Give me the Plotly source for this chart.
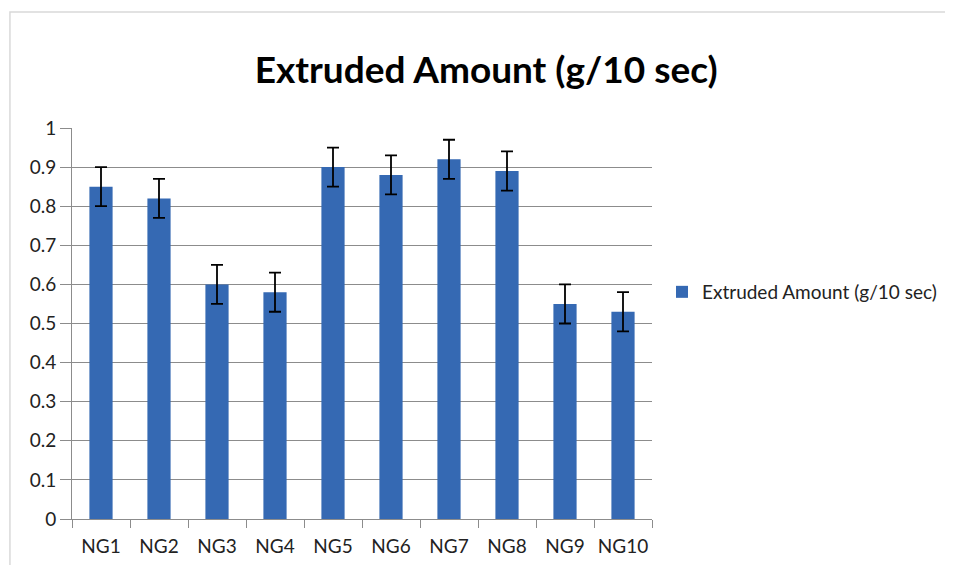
import plotly.graph_objects as go

categories = ["NG1", "NG2", "NG3", "NG4", "NG5", "NG6", "NG7", "NG8", "NG9", "NG10"]
values = [0.85, 0.82, 0.60, 0.58, 0.90, 0.88, 0.92, 0.89, 0.55, 0.53]
errors = [0.05, 0.05, 0.05, 0.05, 0.05, 0.05, 0.05, 0.05, 0.05, 0.05]
y_ticks = [0, 0.1, 0.2, 0.3, 0.4, 0.5, 0.6, 0.7, 0.8, 0.9, 1]
y_tick_labels = ["0", "0.1", "0.2", "0.3", "0.4", "0.5", "0.6", "0.7", "0.8", "0.9", "1"]
series_name = "Extruded Amount (g/10 sec)"

FONT = "Lato, Carlito, 'Liberation Sans', sans-serif"

fig = go.Figure()
fig.add_trace(go.Bar(
    x=categories, y=values, name=series_name,
    marker=dict(color="#3569b3", line=dict(width=0)),
    width=0.4,
    error_y=dict(type="data", array=errors, visible=True, color="black",
                 thickness=1.8, width=6),
    showlegend=True,
))

fig.update_layout(
    width=945, height=557,
    margin=dict(l=64, r=301, t=120, b=46, autoexpand=False),
    paper_bgcolor="white", plot_bgcolor="white",
    font=dict(family=FONT, size=19, color="#222"),
    title=dict(text="<b>Extruded Amount (g/10 sec)</b>", x=0.506, xanchor="center",
               y=0.889, yanchor="middle", font=dict(size=37, color="black", family=FONT)),
    showlegend=True,
    legend=dict(x=1.0172, y=0.5806, xanchor="left", yanchor="middle",
                font=dict(size=19, color="#222"), bgcolor="rgba(0,0,0,0)",
                itemwidth=30, tracegroupgap=0),
    xaxis=dict(type="category", showgrid=False, showline=True, linecolor="#8c8c8c",
               linewidth=1, ticks="outside", ticklen=8, tickcolor="#8c8c8c",
               tickson="boundaries", ticklabelstandoff=10, tickangle=0,
               automargin=False, tickfont=dict(size=19, color="#222")),
    yaxis=dict(range=[0, 1], tickvals=y_ticks, ticktext=y_tick_labels,
               showgrid=True, gridcolor="#8c8c8c", gridwidth=1,
               showline=True, linecolor="#8c8c8c", linewidth=1,
               ticks="outside", ticklen=11, tickcolor="#8c8c8c", automargin=False,
               zeroline=False, tickfont=dict(size=19, color="#222")),
    shapes=[dict(type="rect", xref="paper", yref="paper",
                 x0=-0.107, x1=1.6, y0=-0.3, y1=1.2967,
                 line=dict(color="#d9d9d9", width=1.5), layer="below")],
)

fig.write_html("out.html")
